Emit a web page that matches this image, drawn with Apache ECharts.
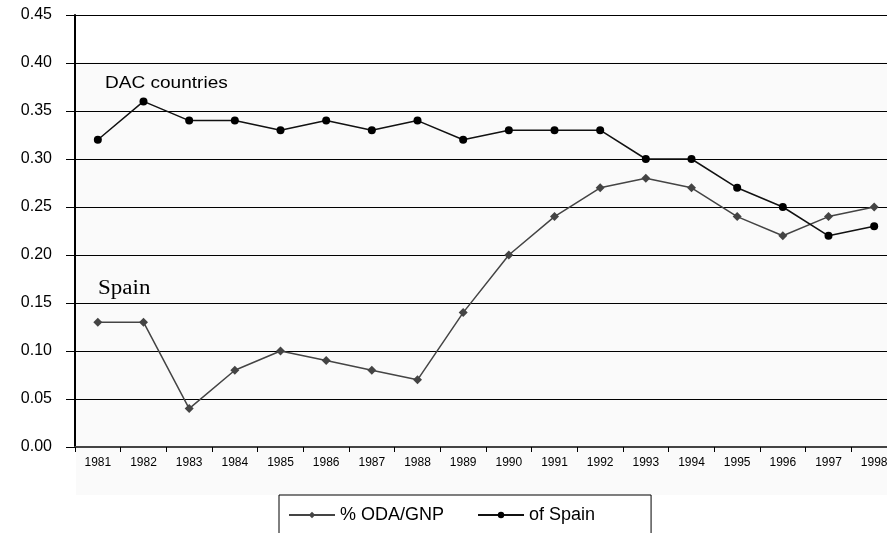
<!DOCTYPE html>
<html><head><meta charset="utf-8">
<script src="https://cdn.jsdelivr.net/npm/echarts@6/dist/echarts.min.js"></script>
<style>html,body{margin:0;padding:0;background:#fff;overflow:hidden;width:887px;height:533px}#c{width:897px;height:533px}</style>
</head><body><div id="c"></div>
<script>
const years = ['1981','1982','1983','1984','1985','1986','1987','1988','1989','1990','1991','1992','1993','1994','1995','1996','1997','1998'];
const spainODA = [0.13,0.13,0.04,0.08,0.10,0.09,0.08,0.07,0.14,0.20,0.24,0.27,0.28,0.27,0.24,0.22,0.24,0.25];
const dacODA = [0.32,0.36,0.34,0.34,0.33,0.34,0.33,0.34,0.32,0.33,0.33,0.33,0.30,0.30,0.27,0.25,0.22,0.23];
const seriesNames = ['% ODA/GNP','of Spain'];

const chart = echarts.init(document.getElementById('c'), null, {renderer:'canvas'});
chart.setOption({
  animation:false,
  backgroundColor:'#fff',
  graphic:[
    {type:'rect', z:-10, shape:{x:76,y:62,width:830,height:433}, style:{fill:'#fafafa'}},
    {type:'text', x:105, y:75, scaleX:1.12, style:{text:'DAC countries', fontFamily:'Arial, "Liberation Sans", sans-serif', fontSize:17, fill:'#000'}},
    {type:'text', x:98, y:279, scaleX:1.15, style:{text:'Spain', fontFamily:'"Liberation Serif","Times New Roman",serif', fontSize:20, fill:'#000'}}
  ],
  grid:{left:75, right:0, top:15, bottom:86},
  legend:{
    data:seriesNames, left:279, top:495,
    borderColor:'#000', borderWidth:1, padding:[11,56,30,9],
    itemWidth:46, itemHeight:8, itemGap:33,
    textStyle:{fontFamily:'Arial', fontSize:18, color:'#000'}
  },
  xAxis:{
    type:'category', data:years, boundaryGap:true,
    axisLine:{lineStyle:{color:'#444', width:2}},
    axisTick:{show:true, length:5, lineStyle:{color:'#000'}},
    axisLabel:{fontFamily:'Arial', fontSize:12, color:'#000', margin:10, interval:0}
  },
  yAxis:{
    type:'value', min:0, max:0.45, interval:0.05,
    axisLine:{show:true, lineStyle:{color:'#000', width:2}},
    axisTick:{show:true, length:9, lineStyle:{color:'#000'}},
    axisLabel:{fontFamily:'Arial', fontSize:16, color:'#000', margin:23, formatter:v=>v.toFixed(2)},
    splitLine:{show:true, lineStyle:{color:'#000', width:1.2}}
  },
  series:[
    {name:seriesNames[0], type:'line', data:spainODA, symbol:'diamond', symbolSize:9,
     itemStyle:{color:'#444'}, lineStyle:{color:'#444', width:1.5}},
    {name:seriesNames[1], type:'line', data:dacODA, symbol:'circle', symbolSize:8,
     itemStyle:{color:'#000'}, lineStyle:{color:'#111', width:1.5}}
  ]
});
</script></body></html>
